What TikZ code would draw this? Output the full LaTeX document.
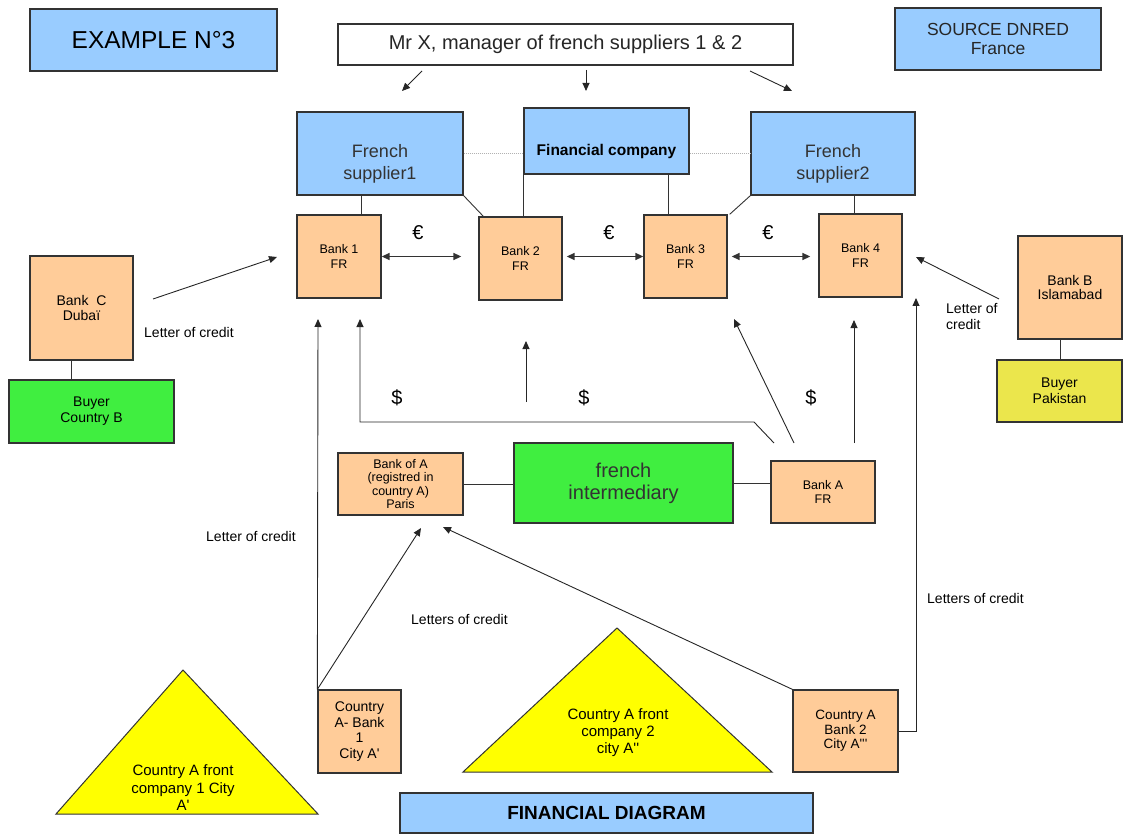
\documentclass[tikz,border=0pt]{standalone}
\usepackage{fontspec}
\setmainfont{Liberation Sans}
\usetikzlibrary{arrows.meta}
\definecolor{boxblue}{HTML}{99CCFF}
\definecolor{peach}{HTML}{FFCC99}
\definecolor{brightgreen}{HTML}{40EE40}
\definecolor{dullyellow}{HTML}{EBE64C}
\definecolor{triyellow}{HTML}{FFFF00}
\definecolor{edge}{HTML}{333333}
\newcommand\fsz[2]{\fontsize{#1}{#2}\selectfont}
\newcommand\sq{\textquotesingle}

\begin{document}
\begin{tikzpicture}[x=1pt,y=-1pt,
  box/.style={draw=edge, line width=1.3pt, inner sep=0pt, align=center, text=black},
  bluebox/.style={box, fill=boxblue},
  peachbox/.style={box, fill=peach},
  greenbox/.style={box, fill=brightgreen},
  yellowbox/.style={box, fill=dullyellow},
  whitebox/.style={box, fill=white},
  txt/.style={inner sep=0pt, align=center},
  tri/.style={draw=edge, line width=1pt, fill=triyellow},
  conn/.style={draw=edge, line width=0.9pt},
  faint/.style={draw=gray!60, line width=1pt, densely dotted},
  arr/.style={draw=black!85, line width=0.9pt, -{Triangle[length=8pt,width=7pt]}},
  dbl/.style={draw=black!80, line width=1.5pt,
    {Triangle[length=8pt,width=7pt]}-{Triangle[length=8pt,width=7pt]}},
  lbl/.style={inner sep=0pt, anchor=west, align=left, font=\fsz{14}{16}},
  sym/.style={inner sep=0pt, font=\fsz{20}{22}},
  bank/.style={peachbox, minimum width=83pt, minimum height=83pt, font=\fsz{12.5}{15}}
]
\useasboundingbox (0,0) rectangle (1127,834);

% title boxes
\node[bluebox, minimum width=247pt, minimum height=62pt, font=\fsz{24.5}{27}] (ex) at (153.5,40) {EXAMPLE N°3};
\node[bluebox, minimum width=206pt, minimum height=62pt, font=\fsz{17.5}{18.5}, text=black!85] (src) at (998,39) {SOURCE DNRED\\France};
\node[whitebox, minimum width=455pt, minimum height=41pt, font=\fsz{20}{22}, text=black!85] (mrx) at (565.5,44.5) {Mr X, manager of french suppliers 1 \& 2};

% suppliers and the financial company (labels sit in the lower part of the boxes)
\node[bluebox, minimum width=166pt, minimum height=83pt] (fs1) at (380,153.5) {};
\node[txt, font=\fsz{18}{21.7}, text=black!80] (fs1t) at ([yshift=-10.5pt]fs1.center) {French\\supplier1};
\node[bluebox, minimum width=165pt, minimum height=66pt] (fin) at (606.5,141) {};
\node[txt, font=\bfseries\fsz{15.5}{18}] (fint) at ([yshift=-10pt]fin.center) {Financial company};
\node[bluebox, minimum width=164pt, minimum height=83pt] (fs2) at (833,153.5) {};
\node[txt, font=\fsz{18}{21.7}, text=black!80] (fs2t) at ([yshift=-10.5pt]fs2.center) {French\\supplier2};

% French banks
\node[bank, minimum width=84pt] (b1) at (339,256.5) {Bank 1\\FR};
\node[bank] (b2) at (520.5,258.5) {Bank 2\\FR};
\node[bank] (b3) at (685.5,256.5) {Bank 3\\FR};
\node[bank] (b4) at (860.5,255.5) {Bank 4\\FR};

% buyers and their banks
\node[peachbox, minimum width=103pt, minimum height=104pt, font=\fsz{14}{15.7}] (bc) at (81.5,308) {Bank\ \ C\\Dubaï};
\node[greenbox, minimum width=165pt, minimum height=63pt, font=\fsz{14}{16}] (buyB) at (91.5,411.5) {Buyer\\Country B};
\node[peachbox, minimum width=104pt, minimum height=103pt, font=\fsz{14}{14.7}] (bb) at (1070,287.5) {Bank B\\Islamabad};
\node[yellowbox, minimum width=125pt, minimum height=62pt, font=\fsz{14}{16}] (buyP) at (1059.5,391) {Buyer\\Pakistan};

% intermediary level
\node[peachbox, minimum width=125pt, minimum height=62pt, font=\fsz{12.5}{13.4}] (boa) at (400.5,484) {Bank of A\\(registred in\\country A)\\Paris};
\node[greenbox, minimum width=219pt, minimum height=80pt, font=\fsz{20}{21.7}, text=black!80] (fi) at (623.5,483) {french\\intermediary};
\node[peachbox, minimum width=104pt, minimum height=62pt, font=\fsz{12.5}{14.5}] (ba) at (823,492) {Bank A\\FR};

% country A banks
\node[peachbox, minimum width=83pt, minimum height=83pt, font=\fsz{14}{15.7}] (cab1) at (359.5,731.5) {Country\\A- Bank\\1\\City A\sq};
\node[peachbox, minimum width=105pt, minimum height=82pt, font=\fsz{13.5}{14.5}] (cab2) at (845.5,731) {Country A\\Bank 2\\City A\sq\sq\sq};

% front companies
\draw[tri] (56,814) -- (183,670) -- (318,814) -- cycle;
\node[txt, font=\fsz{15}{17.5}] (tri1) at (183,788) {Country A front\\company 1 City\\A\sq};
\draw[tri] (463,772) -- (617,628) -- (772,772) -- cycle;
\node[txt, font=\fsz{15}{17}] (tri2) at (618,733) {Country A front\\company 2\\city A\sq\sq};

\node[bluebox, minimum width=413pt, minimum height=40pt, font=\bfseries\fsz{19}{21}] (fd) at (606.5,813) {FINANCIAL DIAGRAM};

% Mr X arrows
\coordinate (mxa) at (422,71);  \coordinate (mxa') at (402,91);
\coordinate (mxb) at (586,70);  \coordinate (mxb') at (586,91);
\coordinate (mxc) at (750,71);  \coordinate (mxc') at (792,91);
\draw[arr] (mxa) -- (mxa');
\draw[arr] (mxb) -- (mxb');
\draw[arr] (mxc) -- (mxc');

% links between suppliers, company and banks
\draw[conn] (361,0 |- fs1.south) -- (361,0 |- b1.north);
\draw[conn] (fs1.south east) -- ([xshift=5pt]b2.north west);
\draw[conn] (fin.south west) -- (fin.south west |- b2.north);
\draw[conn] (668,0 |- fin.south) -- (668,0 |- b3.north);
\draw[conn] (fs2.south west) -- ([xshift=2pt]b3.north east);
\draw[conn] (854,0 |- fs2.south) -- (854,0 |- b4.north);
\draw[faint] (fs1.east) -- (fs1.east -| fin.west);
\draw[faint] (fs2.west -| fin.east) -- (fs2.west);

% euro transfers
\draw[dbl, shorten >=17pt] (b1.east) -- (b1.east -| b2.west);
\draw[dbl, shorten <=4pt] (b2.east |- b1.east) -- (b3.west |- b1.east);
\draw[dbl, shorten <=4pt, shorten >=8pt] (b3.east) -- (b3.east -| b4.west);
\node[sym] (e1) at (418,233) {€};
\node[sym] (e2) at (609,233) {€};
\node[sym] (e3) at (768,233) {€};

% buyers
\draw[conn] (71,0 |- bc.south) -- (71,0 |- buyB.north);
\draw[conn] (1060,0 |- bb.south) -- (1060,0 |- buyP.north);
\coordinate (lcC) at (153,299); \coordinate (lcC') at (277,257);
\draw[arr] (lcC) -- (lcC');
\node[lbl] (lc1) at (144,332) {Letter of credit};
\coordinate (lcB) at (999,299); \coordinate (lcB') at (916,257);
\draw[arr] (lcB) -- (lcB');
\node[lbl] (lc2) at (946,317) {Letter of\\credit};

% dollar flows from Bank A
\coordinate (ba1) at (774,443); \coordinate (ba1k) at (754,422);
\coordinate (ba1e) at (360,319);
\draw[arr] (ba1) -- (ba1k) -- (ba1e |- ba1k) -- (ba1e);
\coordinate (ba2) at (794,443); \coordinate (ba2e) at (734,319);
\draw[arr] (ba2) -- (ba2e);
\coordinate (ba3) at (854,443); \coordinate (ba3e) at (854,320);
\draw[arr] (ba3) -- (ba3e);
\coordinate (mid) at (526,402); \coordinate (mide) at (526,341);
\draw[arr] (mid) -- (mide);
\node[sym] (d1) at (397,398) {\$};
\node[sym] (d2) at (584,398) {\$};
\node[sym] (d3) at (811,398) {\$};

% intermediary links
\draw[conn] (boa.east) -- (boa.east -| fi.west);
\draw[conn] (fi.east) -- (fi.east -| ba.west);

% letters of credit from country A banks
\coordinate (up1) at (318,319);
\draw[arr] (cab1.north west) -- (up1);
\coordinate (boaA) at (421,528);
\draw[arr] (cab1.north west) -- (boaA);
\coordinate (boaB) at (443,527);
\draw[arr] (cab2.north west) -- (boaB);
\coordinate (up2) at (916,298);
\draw[arr] (cab2.east) -| (up2);
\node[lbl] (lc3) at (206,536) {Letter of credit};
\node[lbl] (lc4) at (411,619) {Letters of credit};
\node[lbl] (lc5) at (927,598) {Letters of credit};
\end{tikzpicture}
\end{document}
